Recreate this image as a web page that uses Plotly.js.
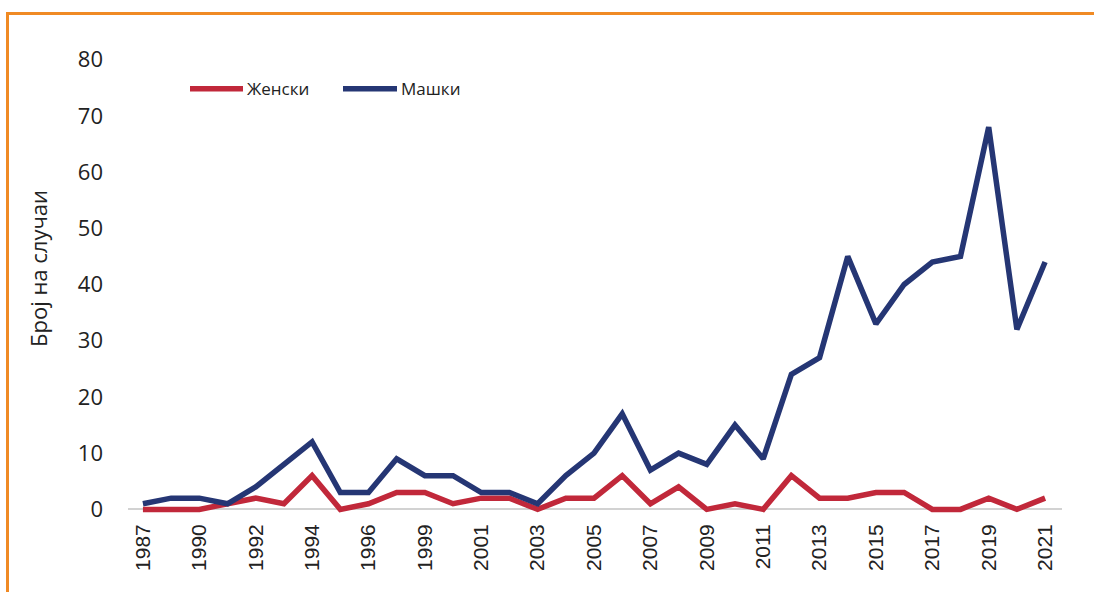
<!DOCTYPE html>
<html>
<head>
<meta charset="utf-8">
<script src="https://cdn.plot.ly/plotly-3.0.1.min.js"></script>
<style>
  html, body { margin: 0; padding: 0; background: #ffffff; }
  #wrap { position: relative; width: 1094px; height: 592px; overflow: hidden; }
  #chart { position: absolute; left: 0; top: 0; width: 1094px; height: 592px; }
  #frame { position: absolute; left: 6px; top: 12px; width: 1200px; height: 700px;
           border-top: 3px solid #f08a24; border-left: 3px solid #f08a24; pointer-events: none; }
</style>
</head>
<body>
<div id="wrap">
  <div id="chart"></div>
  <div id="frame"></div>
</div>
<script>
const years = ["1987","1989","1990","1991","1992","1993","1994","1995","1996","1998","1999","2000",
               "2001","2002","2003","2004","2005","2006","2007","2008","2009","2010","2011","2012",
               "2013","2014","2015","2016","2017","2018","2019","2020","2021"];
const tickYears = ["1987","1990","1992","1994","1996","1999","2001","2003","2005","2007","2009",
                   "2011","2013","2015","2017","2019","2021"];
const female = [0,0,0,1,2,1,6,0,1,3,3,1,2,2,0,2,2,6,1,4,0,1,0,6,2,2,3,3,0,0,2,0,2];
const male   = [1,2,2,1,4,8,12,3,3,9,6,6,3,3,1,6,10,17,7,10,8,15,9,24,27,45,33,40,44,45,68,32,44];
const seriesNames = ["Женски","Машки"];
const seriesColors = ["#c1283a", "#253674"];
const yTitle = "Број на случаи";

const traces = [
  {x: years, y: female, name: seriesNames[0], type: "scatter", mode: "lines",
   line: {color: seriesColors[0], width: 5.5}},
  {x: years, y: male, name: seriesNames[1], type: "scatter", mode: "lines",
   line: {color: seriesColors[1], width: 5.5}}
];

// manual legend (line sample + label), in paper coordinates
const L = 128, R = 32, T = 54.4, B = 77.4, W = 1094, H = 592;
const px2x = p => (p - L) / (W - L - R);
const px2y = p => (H - B - p) / (H - T - B);
const legendY = 89;
const legendItems = [{x0: 190, x1: 243}, {x0: 343, x1: 397}];
const shapes = legendItems.map((it, i) => ({
  type: "line", xref: "paper", yref: "paper",
  x0: px2x(it.x0), x1: px2x(it.x1), y0: px2y(legendY), y1: px2y(legendY),
  line: {color: seriesColors[i], width: 5.5}
}));
const annotations = legendItems.map((it, i) => ({
  xref: "paper", yref: "paper", x: px2x(it.x1 + 2), y: px2y(legendY),
  xanchor: "left", yanchor: "middle", showarrow: false, text: seriesNames[i],
  font: {size: 17, family: "Open Sans, sans-serif", color: "#222"}
}));
// y-axis title
annotations.push({
  xref: "paper", yref: "paper", x: px2x(38), y: px2y(269),
  xanchor: "center", yanchor: "middle", showarrow: false, textangle: -90,
  text: yTitle, font: {size: 22, family: "Open Sans, sans-serif", color: "#222"}
});

const layout = {
  width: W, height: H,
  paper_bgcolor: "rgba(0,0,0,0)", plot_bgcolor: "rgba(0,0,0,0)",
  margin: {l: L, r: R, t: T, b: B},
  font: {family: "Open Sans, sans-serif", color: "#222222"},
  showlegend: false,
  shapes: shapes,
  annotations: annotations,
  xaxis: {type: "category", range: [-0.53, 32.6], tickmode: "array",
          tickvals: tickYears, ticktext: tickYears, tickangle: -90,
          tickfont: {family: "Liberation Sans, Arial, sans-serif", size: 21, color: "#222"},
          ticklabelstandoff: 4,
          showgrid: false, zeroline: false, showline: false, ticks: ""},
  yaxis: {range: [-1, 81], tickvals: [0,10,20,30,40,50,60,70,80],
          tickfont: {family: "Open Sans, sans-serif", size: 22, color: "#222"},
          showgrid: false, zeroline: true, zerolinecolor: "#d2d2d2", zerolinewidth: 2,
          showline: false, ticks: "", ticklabelstandoff: 24}
};

Plotly.newPlot("chart", traces, layout, {displayModeBar: false, staticPlot: true});
</script>
</body>
</html>
